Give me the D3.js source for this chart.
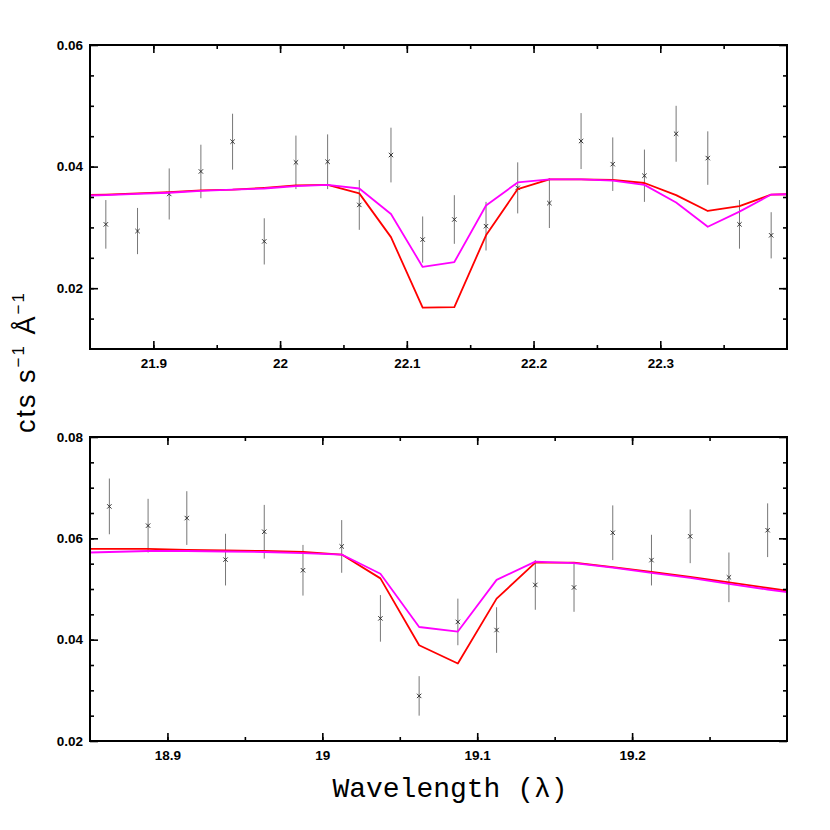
<!DOCTYPE html>
<html>
<head>
<meta charset="utf-8">
<script src="https://cdn.jsdelivr.net/npm/d3@7"></script>
<style>
  body { margin: 0; background: #fff; }
  svg { display: block; }
  .tick text { font-family: "Liberation Sans", Arial, sans-serif; font-weight: bold; font-size: 13.5px; fill: #000; }
</style>
</head>
<body>
<div id="chart"></div>
<script>
// top panel (22.1 A region)
const topWave = [21.8625, 21.8875, 21.9125, 21.9375, 21.9625, 21.9875, 22.0125, 22.0375, 22.0625, 22.0875, 22.1125,
  22.1375, 22.1625, 22.1875, 22.2125, 22.2375, 22.2625, 22.2875, 22.3125, 22.3375, 22.3625, 22.3875];
const topFlux = [0.0305, 0.0294, 0.0355, 0.0392, 0.0441, 0.0277, 0.0407, 0.0408, 0.0337, 0.0419, 0.0280,
  0.0313, 0.0302, 0.0365, 0.0340, 0.0442, 0.0404, 0.0385, 0.0454, 0.0414, 0.0305, 0.0287];
const topErr = [0.0040, 0.0038, 0.0042, 0.0044, 0.0046, 0.0038, 0.0044, 0.0045, 0.0041, 0.0045, 0.0038,
  0.0040, 0.0040, 0.0042, 0.0041, 0.0046, 0.0044, 0.0043, 0.0046, 0.0044, 0.0040, 0.0038];
const topModelWave = [21.8375, 21.8625, 21.8875, 21.9125, 21.9375, 21.9625, 21.9875, 22.0125, 22.0375, 22.0625, 22.0875, 22.1125,
  22.1375, 22.1625, 22.1875, 22.2125, 22.2375, 22.2625, 22.2875, 22.3125, 22.3375, 22.3625, 22.3875, 22.4125];
const topRed = [0.0353, 0.0354, 0.0356, 0.0358, 0.0361, 0.0362, 0.0365, 0.0369, 0.0370, 0.0356, 0.0284, 0.0168,
  0.0169, 0.0287, 0.0363, 0.0379, 0.0379, 0.0378, 0.0373, 0.0353, 0.0327, 0.0335, 0.0354, 0.0355];
const topMagenta = [0.0352, 0.0353, 0.0355, 0.0357, 0.0360, 0.0362, 0.0364, 0.0368, 0.0370, 0.0364, 0.0322, 0.0235,
  0.0243, 0.0336, 0.0374, 0.0379, 0.0379, 0.0377, 0.0370, 0.0341, 0.0301, 0.0326, 0.0354, 0.0355];
const topXTicks = [21.9, 22, 22.1, 22.2, 22.3];
const topYTicks = [0.02, 0.04, 0.06];

// bottom panel (19.1 A region)
const botWave = [18.8625, 18.8875, 18.9125, 18.9375, 18.9625, 18.9875, 19.0125, 19.0375, 19.0625,
  19.0875, 19.1125, 19.1375, 19.1625, 19.1875, 19.2125, 19.2375, 19.2625, 19.2875];
const botFlux = [0.0663, 0.0625, 0.0640, 0.0558, 0.0613, 0.0537, 0.0584, 0.0442, 0.0289,
  0.0435, 0.0419, 0.0508, 0.0503, 0.0611, 0.0557, 0.0604, 0.0523, 0.0616];
const botErr = [0.0055, 0.0053, 0.0053, 0.0051, 0.0053, 0.0050, 0.0052, 0.0046, 0.0039,
  0.0046, 0.0045, 0.0049, 0.0048, 0.0054, 0.0050, 0.0053, 0.0049, 0.0053];
const botModelWave = [18.8375, 18.8625, 18.8875, 18.9125, 18.9375, 18.9625, 18.9875, 19.0125, 19.0375, 19.0625,
  19.0875, 19.1125, 19.1375, 19.1625, 19.1875, 19.2125, 19.2375, 19.2625, 19.2875, 19.3125];
const botRed = [0.0579, 0.0579, 0.0579, 0.0577, 0.0576, 0.0575, 0.0573, 0.0568, 0.0521, 0.0389,
  0.0353, 0.0481, 0.0552, 0.0552, 0.0543, 0.0534, 0.0524, 0.0513, 0.0502, 0.0491];
const botMagenta = [0.0571, 0.0573, 0.0575, 0.0575, 0.0574, 0.0573, 0.0571, 0.0568, 0.0530, 0.0425,
  0.0416, 0.0518, 0.0554, 0.0551, 0.0542, 0.0532, 0.0522, 0.0510, 0.0499, 0.0489];
const botXTicks = [18.9, 19, 19.1, 19.2];
const botYTicks = [0.02, 0.04, 0.06, 0.08];

const width = 830, height = 830;

const svg = d3.select("#chart")
  .append("svg")
  .attr("width", width)
  .attr("height", height);

const panels = [
  { id: "top", top: 45, xDomain: [21.85, 22.4], yDomain: [0.01, 0.06], xTicks: topXTicks, yTicks: topYTicks,
    wave: topWave, flux: topFlux, err: topErr, mwave: topModelWave, red: topRed, magenta: topMagenta },
  { id: "bot", top: 437, xDomain: [18.85, 19.3], yDomain: [0.02, 0.08], xTicks: botXTicks, yTicks: botYTicks,
    wave: botWave, flux: botFlux, err: botErr, mwave: botModelWave, red: botRed, magenta: botMagenta }
];

const left = 90, right = 787, panelH = 304;

panels.forEach(p => {
  const x = d3.scaleLinear().domain(p.xDomain).range([left, right]);
  const y = d3.scaleLinear().domain(p.yDomain).range([p.top + panelH, p.top]);
  // minor ticks every 0.05 in x and 0.005 in y
  const xMinor = d3.range(Math.round(p.xDomain[0] * 20) + 1, Math.round(p.xDomain[1] * 20)).map(k => k / 20);
  const yMinor = d3.range(Math.round(p.yDomain[0] * 200) + 1, Math.round(p.yDomain[1] * 200)).map(k => k / 200);

  const g = svg.append("g");

  g.append("clipPath").attr("id", "clip-" + p.id)
    .append("rect")
    .attr("x", left).attr("y", p.top)
    .attr("width", right - left).attr("height", panelH);

  // error bars
  g.append("g")
    .selectAll("line")
    .data(p.wave)
    .join("line")
    .attr("x1", d => x(d)).attr("x2", d => x(d))
    .attr("y1", (d, i) => y(p.flux[i] - p.err[i]))
    .attr("y2", (d, i) => y(p.flux[i] + p.err[i]))
    .attr("stroke", "#777")
    .attr("stroke-width", 1);

  // data crosses
  g.append("g")
    .selectAll("path")
    .data(p.wave)
    .join("path")
    .attr("d", (d, i) => {
      const cx = x(d), cy = y(p.flux[i]), s = 2.2;
      return `M${cx - s},${cy - s}L${cx + s},${cy + s}M${cx - s},${cy + s}L${cx + s},${cy - s}`;
    })
    .attr("stroke", "#222")
    .attr("stroke-width", 0.9);

  // models
  const line = d3.line().x(d => x(d[0])).y(d => y(d[1]));
  [["red", "#ff0000"], ["magenta", "#ff00ff"]].forEach(([key, col]) => {
    g.append("path")
      .attr("clip-path", `url(#clip-${p.id})`)
      .attr("d", line(p.mwave.map((w, i) => [w, p[key][i]])))
      .attr("fill", "none")
      .attr("stroke", col)
      .attr("stroke-width", 1.8)
      .attr("stroke-linejoin", "round");
  });

  const fmtX = d3.format("~g");
  const fmtY = d3.format(".2f");

  // minor ticks all sides
  g.append("g").attr("transform", `translate(0,${p.top + panelH})`)
    .call(d3.axisBottom(x).tickValues(xMinor).tickSize(-4).tickFormat(""));
  g.append("g").attr("transform", `translate(0,${p.top})`)
    .call(d3.axisTop(x).tickValues(xMinor).tickSize(-4).tickFormat(""));
  g.append("g").attr("transform", `translate(${left},0)`)
    .call(d3.axisLeft(y).tickValues(yMinor).tickSize(-4).tickFormat(""));
  g.append("g").attr("transform", `translate(${right},0)`)
    .call(d3.axisRight(y).tickValues(yMinor).tickSize(-4).tickFormat(""));

  // major ticks
  g.append("g").attr("transform", `translate(0,${p.top + panelH})`)
    .call(d3.axisBottom(x).tickValues(p.xTicks).tickSize(-8).tickPadding(9).tickFormat(fmtX));
  g.append("g").attr("transform", `translate(0,${p.top})`)
    .call(d3.axisTop(x).tickValues(p.xTicks).tickSize(-8).tickFormat(""));
  g.append("g").attr("transform", `translate(${left},0)`)
    .call(d3.axisLeft(y).tickValues(p.yTicks).tickSize(-8).tickPadding(7).tickFormat(fmtY));
  g.append("g").attr("transform", `translate(${right},0)`)
    .call(d3.axisRight(y).tickValues(p.yTicks).tickSize(-8).tickFormat(""));

  g.selectAll(".domain").remove();
  g.selectAll(".tick line").attr("stroke", "#000").attr("stroke-width", 1.6);

  g.append("rect")
    .attr("x", left).attr("y", p.top)
    .attr("width", right - left).attr("height", panelH)
    .attr("fill", "none")
    .attr("stroke", "#000")
    .attr("stroke-width", 2);
});

// axis titles
svg.append("text")
  .attr("x", 450)
  .attr("y", 797)
  .attr("text-anchor", "middle")
  .style("font-family", "'Liberation Mono', 'Courier New', monospace")
  .style("font-size", "28px")
  .text("Wavelength (λ)");

const yt = svg.append("text")
  .attr("transform", "translate(35,362) rotate(-90)")
  .attr("text-anchor", "middle")
  .style("font-family", "'Liberation Sans', Arial, sans-serif")
  .style("font-size", "27px")
  .style("letter-spacing", "2px");
yt.append("tspan").text("cts s");
yt.append("tspan").attr("dy", -11).style("font-size", "17px").text("−1");
yt.append("tspan").attr("dy", 11).text(" Å");
yt.append("tspan").attr("dy", -11).style("font-size", "17px").text("−1");
</script>
</body>
</html>
